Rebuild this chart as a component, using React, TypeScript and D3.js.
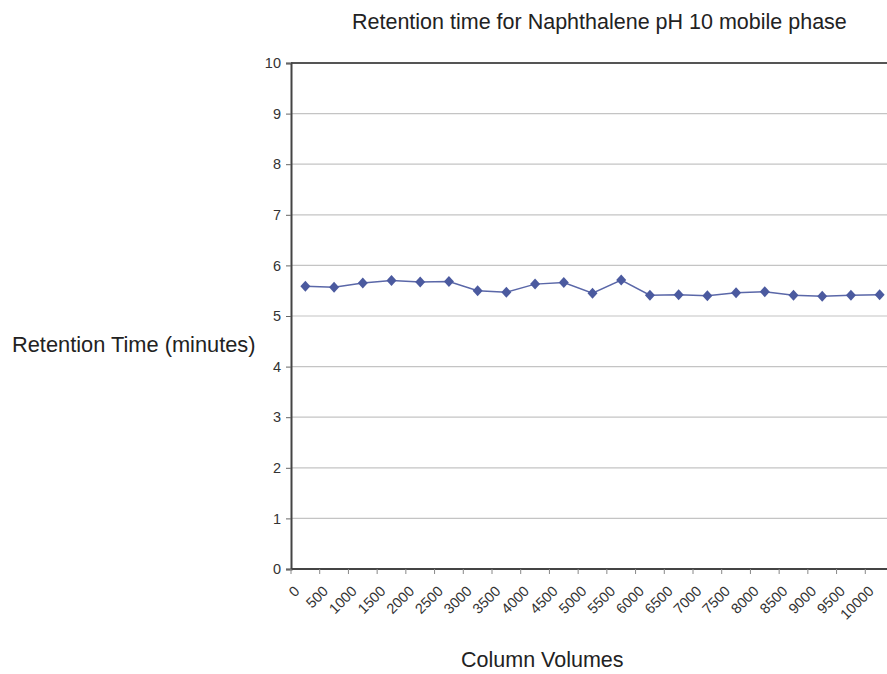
import React, { useEffect, useRef } from 'react';
import * as d3 from 'd3';

const columnVolumes = ['0', '500', '1000', '1500', '2000', '2500', '3000', '3500', '4000', '4500', '5000',
  '5500', '6000', '6500', '7000', '7500', '8000', '8500', '9000', '9500', '10000'];
const retentionTimes = [5.59, 5.57, 5.65, 5.70, 5.67, 5.68, 5.50, 5.47, 5.63, 5.66, 5.45,
  5.71, 5.41, 5.42, 5.40, 5.46, 5.48, 5.41, 5.39, 5.41, 5.42];
const yTicks = [0, 1, 2, 3, 4, 5, 6, 7, 8, 9, 10];

// squat diamond like the Excel marker
const wideDiamond = {
  draw(context: any, size: number) {
    const r = Math.sqrt(size / 2);
    context.moveTo(0, -r * 1.1);
    context.lineTo(r, 0);
    context.lineTo(0, r * 1.1);
    context.lineTo(-r, 0);
    context.closePath();
  }
};

const App = () => {
  const svgRef = useRef<SVGSVGElement>(null);

  useEffect(() => {
    const svg = d3.select(svgRef.current);
    const height = 674;
    const margin = { top: 63, left: 291, bottom: 105 };
    const plotW = 603; // plot runs past the right edge, as in the scan
    const font = 'Arial, "Liberation Sans", sans-serif';

    svg.selectAll('*').remove();

    const x = d3.scaleBand().domain(columnVolumes).range([margin.left, margin.left + plotW]);
    const y = d3.scaleLinear().domain([0, 10]).range([height - margin.bottom, margin.top]);

    // horizontal grid lines
    svg.append('g')
      .selectAll('line')
      .data(yTicks.filter(d => d > 0))
      .enter()
      .append('line')
      .attr('x1', margin.left)
      .attr('x2', margin.left + plotW)
      .attr('y1', d => y(d))
      .attr('y2', d => y(d))
      .attr('stroke', d => (d === 10 ? '#555' : '#c4c4c4'))
      .attr('stroke-width', d => (d === 10 ? 2 : 1.2));

    // y axis
    const yAxis = d3.axisLeft(y).tickValues(yTicks).tickSize(5).tickFormat(d3.format('d'));
    const gy = svg.append('g')
      .attr('transform', `translate(${margin.left},0)`)
      .attr('font-size', 14.5)
      .attr('font-family', font)
      .call(yAxis);
    gy.attr('font-size', 14.5).attr('font-family', font);
    gy.select('.domain').attr('stroke', '#444').attr('stroke-width', 2);
    gy.selectAll('.tick line').attr('stroke', '#666');
    gy.selectAll('.tick text')
      .style('font-size', '14.5px')
      .attr('fill', '#333')
      .attr('x', -10);

    // x axis
    const gx = svg.append('g').attr('transform', `translate(0,${y(0)})`);
    gx.append('line')
      .attr('x1', margin.left)
      .attr('x2', margin.left + plotW)
      .attr('stroke', '#444')
      .attr('stroke-width', 2);
    gx.selectAll('.xtick')
      .data(columnVolumes)
      .enter()
      .append('line')
      .attr('class', 'xtick')
      .attr('x1', d => x(d)!)
      .attr('x2', d => x(d)!)
      .attr('y1', 0)
      .attr('y2', 5)
      .attr('stroke', '#888');
    gx.selectAll('.xlabel')
      .data(columnVolumes)
      .enter()
      .append('text')
      .attr('class', 'xlabel')
      .attr('transform', d => `translate(${x(d)! + x.bandwidth() / 2 - 5},${23}) rotate(-45)`)
      .attr('text-anchor', 'end')
      .attr('font-family', font)
      .attr('font-size', 14.5)
      .attr('fill', '#333')
      .text(d => d);

    // series line and markers
    const line = d3.line<number>()
      .x((d, i) => x(columnVolumes[i])! + x.bandwidth() / 2)
      .y(d => y(d));
    svg.append('path')
      .datum(retentionTimes)
      .attr('d', line)
      .attr('fill', 'none')
      .attr('stroke', '#5a67a8')
      .attr('stroke-width', 1.5);
    svg.selectAll('.pt')
      .data(retentionTimes)
      .enter()
      .append('path')
      .attr('class', 'pt')
      .attr('d', d3.symbol().type(wideDiamond as any).size(50))
      .attr('transform', (d, i) => `translate(${x(columnVolumes[i])! + x.bandwidth() / 2},${y(d)})`)
      .attr('fill', '#4b5a9f');

    // titles
    svg.append('text')
      .attr('x', 352)
      .attr('y', 29)
      .attr('font-family', font)
      .attr('font-size', 21.5)
      .attr('fill', '#222')
      .text('Retention time for Naphthalene pH 10 mobile phase');
    svg.append('text')
      .attr('x', 12)
      .attr('y', 352)
      .attr('font-family', font)
      .attr('font-size', 21.8)
      .attr('fill', '#222')
      .text('Retention Time (minutes)');
    svg.append('text')
      .attr('x', 461)
      .attr('y', 667)
      .attr('font-family', font)
      .attr('font-size', 21.5)
      .attr('fill', '#222')
      .text('Column Volumes');
  }, []);

  return (
    <svg
      ref={svgRef}
      width={887}
      height={674}
      style={{ position: 'absolute', left: 0, top: 0, background: '#fff' }}
    />
  );
};

export default App;
